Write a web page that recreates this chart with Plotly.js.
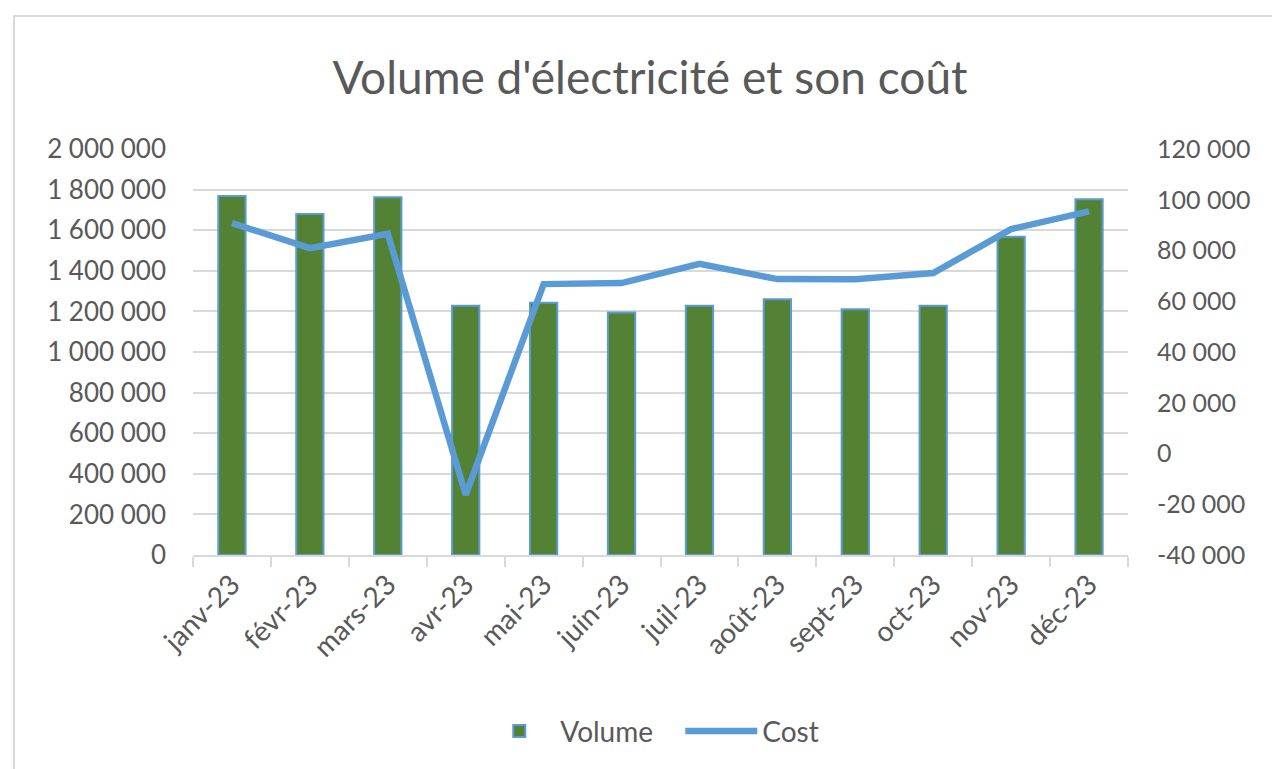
<!DOCTYPE html>
<html>
<head>
<meta charset="utf-8">
<script src="https://cdn.plot.ly/plotly-3.0.1.min.js"></script>
<style>
  html, body { margin: 0; padding: 0; background: #ffffff; overflow: hidden; }
  #frame { position: absolute; left: 13px; top: 15px; width: 1300px; height: 800px; border: 2px solid #d9d9d9; box-sizing: border-box; }
  #chart { position: absolute; left: 0; top: 0; width: 1272px; height: 769px; }
</style>
</head>
<body>
<div id="frame"></div>
<div id="chart"></div>
<script>
const months = ["janv-23", "févr-23", "mars-23", "avr-23", "mai-23", "juin-23", "juil-23", "août-23", "sept-23", "oct-23", "nov-23", "déc-23"];
const volume = [1768000, 1680000, 1762000, 1228000, 1243000, 1194000, 1228000, 1260000, 1210000, 1228000, 1568000, 1752000];
const cost = [90800, 80950, 86600, -16300, 66760, 67150, 74760, 68730, 68700, 71100, 88450, 95400];
const leftTicks = [0, 200000, 400000, 600000, 800000, 1000000, 1200000, 1400000, 1600000, 1800000, 2000000];
const rightTicks = [-40000, -20000, 0, 20000, 40000, 60000, 80000, 100000, 120000];

function fmt(v) {
  const s = Math.abs(v).toString().replace(/\B(?=(\d{3})+(?!\d))/g, " ");
  return (v < 0 ? "-" : "") + s;
}

const FONT = "Lato, 'Open Sans', sans-serif";
const GREY = "#595959";

const traces = [
  {
    type: "bar", name: "Volume", x: months, y: volume,
    marker: { color: "#548235", line: { color: "#5B9BD5", width: 2 } },
    yaxis: "y"
  },
  {
    type: "scatter", mode: "lines", name: "Cost", x: months, y: cost,
    line: { color: "#5B9BD5", width: 6.5 },
    yaxis: "y2"
  }
];

const layout = {
  width: 1272, height: 769,
  paper_bgcolor: "rgba(0,0,0,0)", plot_bgcolor: "rgba(0,0,0,0)",
  margin: { l: 193, r: 144, t: 149, b: 214 },
  font: { family: FONT, color: GREY, size: 25 },
  title: { text: "Volume d'électricité et son coût", x: 0.511, xanchor: "center", y: 0.899, yanchor: "middle", yref: "container",
           font: { family: FONT, size: 46, color: GREY } },
  bargap: 0.65,
  showlegend: true,
  legend: { orientation: "h", x: 0.376, xanchor: "left", xref: "container", y: 0.049, yanchor: "middle", yref: "container",
            font: { family: FONT, size: 28, color: GREY }, itemwidth: 72, traceorder: "normal",
            entrywidth: 115, entrywidthmode: "pixels" },
  xaxis: {
    type: "category", showgrid: false, showline: true, linecolor: "#d9d9d9", linewidth: 2,
    ticks: "outside", tickson: "boundaries", ticklen: 10, tickcolor: "#d9d9d9", tickwidth: 2,
    tickangle: -45, tickfont: { family: FONT, size: 28, color: GREY }, zeroline: false
  },
  yaxis: {
    range: [0, 2000000], tickvals: leftTicks, ticktext: leftTicks.map(fmt),
    showgrid: true, gridcolor: "#d9d9d9", gridwidth: 2, zeroline: false, showline: false,
    ticks: "", ticklabelstandoff: 26, tickfont: { family: FONT, size: 26, color: GREY }
  },
  yaxis2: {
    overlaying: "y", side: "right", range: [-40000, 120000], tickvals: rightTicks, ticktext: rightTicks.map(fmt),
    showgrid: false, zeroline: false, showline: false, ticks: "", ticklabelstandoff: 28,
    tickfont: { family: FONT, size: 25, color: GREY }
  }
};

Plotly.newPlot("chart", traces, layout, { displayModeBar: false, staticPlot: true });
</script>
</body>
</html>
